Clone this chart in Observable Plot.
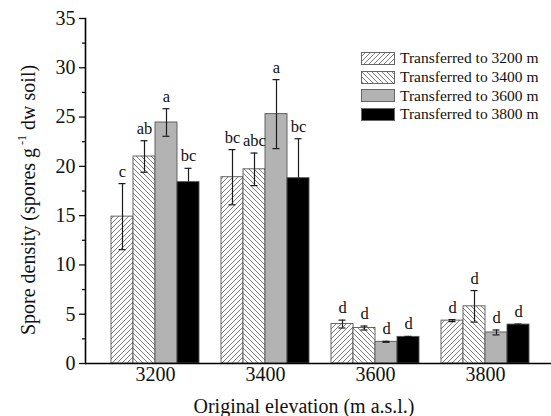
<!DOCTYPE html>
<html>
<head>
<meta charset="utf-8">
<script src="https://cdn.jsdelivr.net/npm/d3@7"></script>
<script src="https://cdn.jsdelivr.net/npm/@observablehq/plot@0.6"></script>
<style>
  html, body { margin: 0; padding: 0; background: #fff; }
  #wrap { position: relative; width: 551px; height: 416px; font-family: "Liberation Serif", "Times New Roman", serif; }
  #legend { position: absolute; left: 361px; top: 49px; }
  .row { display: flex; align-items: center; height: 18.7px; font-size: 15.5px; color: #111; }
  .row svg { margin-right: 5px; display: block; }
</style>
</head>
<body>
<svg width="0" height="0" style="position:absolute">
  <defs>
    <pattern id="hatchA" patternUnits="userSpaceOnUse" width="5" height="5">
      <rect width="5" height="5" fill="#fff"/>
      <path d="M-1,6 L6,-1 M-1,1 L1,-1 M4,6 L6,4" stroke="#444" stroke-width="0.7"/>
    </pattern>
    <pattern id="hatchB" patternUnits="userSpaceOnUse" width="5" height="5">
      <rect width="5" height="5" fill="#fff"/>
      <path d="M-1,-1 L6,6 M4,-1 L6,1 M-1,4 L1,6" stroke="#444" stroke-width="0.7"/>
    </pattern>
  </defs>
</svg>
<div id="wrap">
  <div id="chart"></div>
  <div id="legend"></div>
</div>
<script>
const groups = ["3200", "3400", "3600", "3800"];
const seriesNames = ["Transferred to 3200 m", "Transferred to 3400 m", "Transferred to 3600 m", "Transferred to 3800 m"];
const seriesFills = ["url(#hatchA)", "url(#hatchB)", "#b3b3b3", "#000000"];

const mean3200 = [14.9, 21.0, 24.45, 18.4];
const se3200 = [3.35, 1.6, 1.4, 1.4];
const letters3200 = ["c", "ab", "a", "bc"];

const mean3400 = [18.9, 19.7, 25.3, 18.8];
const se3400 = [2.8, 1.65, 3.5, 4.0];
const letters3400 = ["bc", "abc", "a", "bc"];

const mean3600 = [4.0, 3.6, 2.2, 2.7];
const se3600 = [0.4, 0.2, 0.05, 0.05];
const letters3600 = ["d", "d", "d", "d"];

const mean3800 = [4.35, 5.8, 3.15, 3.95];
const se3800 = [0.1, 1.6, 0.25, 0.05];
const letters3800 = ["d", "d", "d", "d"];

const yMajorTicks = [0, 5, 10, 15, 20, 25, 30, 35];
const yMinorTicks = [2.5, 7.5, 12.5, 17.5, 22.5, 27.5, 32.5];

const meansByGroup = [mean3200, mean3400, mean3600, mean3800];
const seByGroup = [se3200, se3400, se3600, se3800];
const lettersByGroup = [letters3200, letters3400, letters3600, letters3800];

const rows = groups.flatMap((g, gi) => seriesNames.map((s, si) => ({
  group: g, series: s, key: g + "|" + si,
  mean: meansByGroup[gi][si], se: seByGroup[gi][si], letter: lettersByGroup[gi][si]
})));
// the lower whisker is hidden inside the black bars
const lowerRows = rows.filter(d => d.series !== seriesNames[3]);

// band domain: 4 bars per group, one empty slot between groups
const xDomain = [];
groups.forEach((g, gi) => {
  seriesNames.forEach((s, si) => xDomain.push(g + "|" + si));
  if (gi < groups.length - 1) xDomain.push("gap" + gi);
});

const W = 551, H = 416, mL = 85, mR = 0, mT = 18, mB = 53;
const step = (W - mL - mR) / (xDomain.length + 2);

const chart = Plot.plot({
  width: W, height: H,
  marginLeft: mL, marginRight: mR, marginTop: mT, marginBottom: mB,
  style: { fontFamily: "Liberation Serif, Times New Roman, serif", fontSize: "20px", color: "#111", background: "#fff" },
  x: { type: "band", domain: xDomain, paddingInner: 0, paddingOuter: 1, align: 0.55, axis: null },
  y: { domain: [0, 35], axis: null },
  color: { type: "ordinal", domain: seriesNames, range: seriesFills },
  marks: [
    Plot.barY(rows, { x: "key", y: "mean", fill: "series", stroke: "#555", strokeWidth: 0.9 }),
    Plot.ruleX(rows, { x: "key", y1: "mean", y2: d => d.mean + d.se, stroke: "#1a1a1a", strokeWidth: 1.2 }),
    Plot.ruleX(lowerRows, { x: "key", y1: d => d.mean - d.se, y2: "mean", stroke: "#1a1a1a", strokeWidth: 1.2 }),
    Plot.tickY(rows, { x: "key", y: d => d.mean + d.se, stroke: "#1a1a1a", strokeWidth: 1.2, insetLeft: 7.5, insetRight: 7.5 }),
    Plot.tickY(lowerRows, { x: "key", y: d => d.mean - d.se, stroke: "#1a1a1a", strokeWidth: 1.2, insetLeft: 7.5, insetRight: 7.5 }),
    Plot.text(rows, { x: "key", y: d => d.mean + d.se, text: "letter", lineAnchor: "bottom", dy: -7, fontSize: 16.5, fill: "#111" }),
    Plot.text(groups, { x: g => g + "|1", text: d => d, dx: step / 2, frameAnchor: "bottom", dy: 17, fontSize: 20, fill: "#111" }),
    Plot.axisY(yMajorTicks, { tickSize: 6, tickPadding: 4, fontSize: 20, label: null, strokeWidth: 1.3 }),
    Plot.axisY(yMinorTicks, { tickSize: 3, tickFormat: () => "", label: null, strokeWidth: 1.3 }),
    Plot.ruleY([0], { stroke: "#000", strokeWidth: 1.6 }),
    Plot.frame({ anchor: "left", stroke: "#000", strokeWidth: 1.6 })
  ]
});

document.getElementById("chart").appendChild(chart);

const svg = d3.select(chart);
const yt = svg.append("text")
  .attr("transform", "translate(28,200) rotate(-90)")
  .attr("text-anchor", "middle")
  .attr("dy", "0.35em")
  .attr("font-size", 20)
  .attr("fill", "#111");
yt.append("tspan").text("Spore density (spores g");
yt.append("tspan").attr("font-size", 12).attr("dy", "-0.75em").text(" -1");
yt.append("tspan").attr("dy", "0.45em").text(" dw soil)");

svg.append("text")
  .attr("x", 304).attr("y", 413)
  .attr("text-anchor", "middle")
  .attr("font-size", 20)
  .attr("fill", "#111")
  .text("Original elevation (m a.s.l.)");

// legend
const legend = d3.select("#legend");
seriesNames.forEach((s, i) => {
  const row = legend.append("div").attr("class", "row");
  const sw = row.append("svg").attr("width", 34).attr("height", 13);
  sw.append("rect").attr("x", 0.5).attr("y", 0.5).attr("width", 33).attr("height", 12)
    .attr("fill", seriesFills[i]).attr("stroke", "#666").attr("stroke-width", 1);
  row.append("span").text(s);
});
</script>
</body>
</html>
